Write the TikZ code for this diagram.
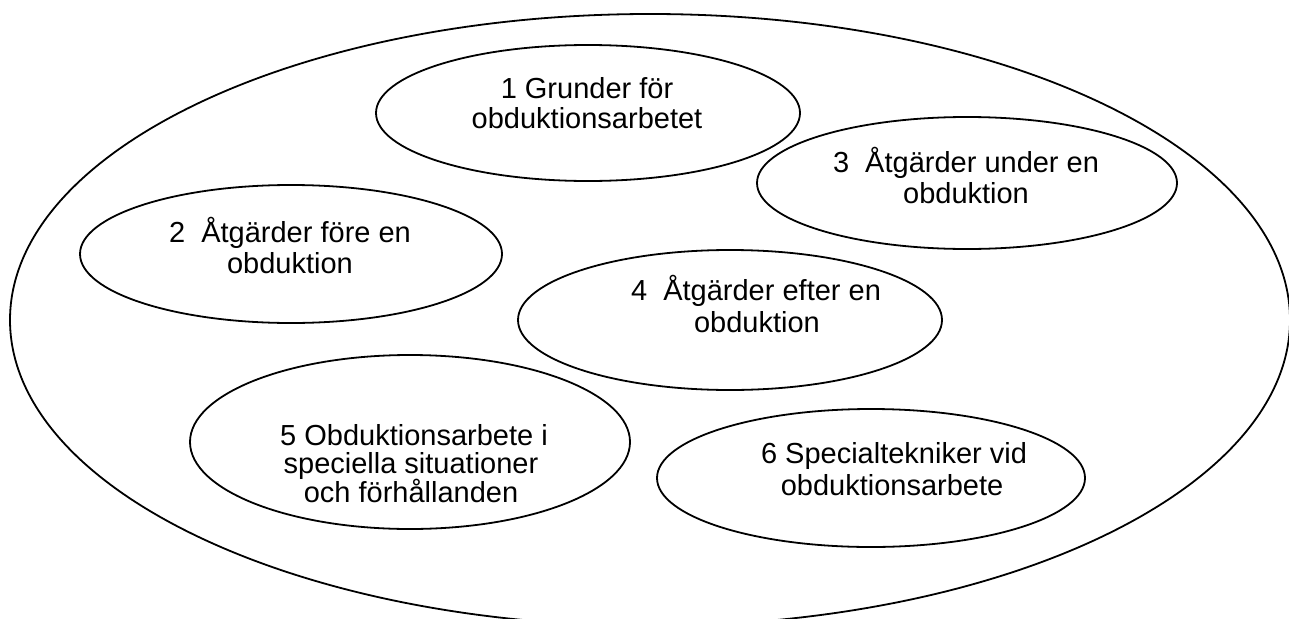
\documentclass[tikz,border=0pt]{standalone}
\usepackage{fontspec}
\setmainfont{Liberation Sans}
\usetikzlibrary{shapes.geometric}
\begin{document}
\begin{tikzpicture}[x=1pt,y=-1pt,
  bubble/.style={ellipse,draw=black,line width=1.8pt,inner sep=0pt},
  txt/.style={anchor=base,inner sep=0pt,font=\fontsize{29}{31}\selectfont}]
\useasboundingbox (0,0) rectangle (1289,618);
\clip (0,0) rectangle (1289,618);
\node[bubble,minimum width=1280pt,minimum height=612pt] (outer) at (650,320) {};
\node[bubble,minimum width=424pt,minimum height=136pt] (e1) at (588,113) {};
\node[bubble,minimum width=422pt,minimum height=138pt] (e2) at (291,254) {};
\node[bubble,minimum width=420pt,minimum height=132pt] (e3) at (967,183) {};
\node[bubble,minimum width=424pt,minimum height=140pt] (e4) at (730,320) {};
\node[bubble,minimum width=440pt,minimum height=174pt] (e5) at (410,442) {};
\node[bubble,minimum width=428pt,minimum height=138pt] (e6) at (871,478) {};
\node[txt] (t1a) at (587,98) {1 Grunder för};
\node[txt] (t1b) at (587,128) {obduktionsarbetet};
\node[txt] (t2a) at (290,242) {2\ \ Åtgärder före en};
\node[txt] (t2b) at (290,273) {obduktion};
\node[txt] (t3a) at (966,172) {3\ \ Åtgärder under en};
\node[txt] (t3b) at (966,203) {obduktion};
\node[txt] (t4a) at (756,300) {4\ \ Åtgärder efter en};
\node[txt] (t4b) at (757,332) {obduktion};
\node[txt] (t5a) at (414,445) {5 Obduktionsarbete i};
\node[txt] (t5b) at (411,473) {speciella situationer};
\node[txt] (t5c) at (411,502) {och förhållanden};
\node[txt] (t6a) at (894,463) {6 Specialtekniker vid};
\node[txt] (t6b) at (892,495) {obduktionsarbete};
\end{tikzpicture}
\end{document}
